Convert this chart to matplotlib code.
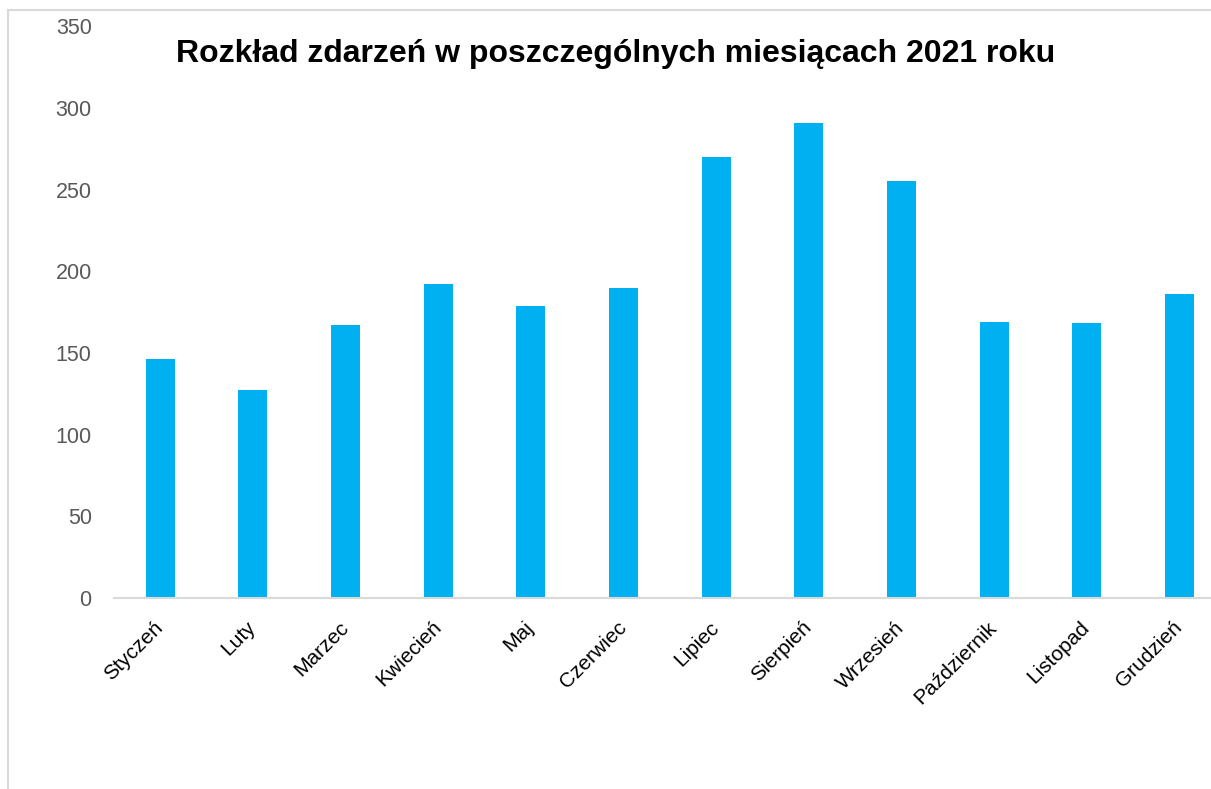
import matplotlib
matplotlib.use("Agg")
import matplotlib.pyplot as plt
import numpy as np
from matplotlib.patches import Rectangle

MIESIACE = ["Styczeń", "Luty", "Marzec", "Kwiecień", "Maj", "Czerwiec", "Lipiec",
            "Sierpień", "Wrzesień", "Październik", "Listopad", "Grudzień"]
ZDARZENIA = [146, 127, 167, 192, 179, 190, 270, 291, 255, 169, 168, 186]
Y_TICKS = [0, 50, 100, 150, 200, 250, 300, 350]
TYTUL = "Rozkład zdarzeń w poszczególnych miesiącach 2021 roku"

plt.rcParams["font.family"] = ["Liberation Sans", "DejaVu Sans"]

fig = plt.figure(figsize=(12.11, 7.89), dpi=100)
ax = fig.add_axes([0.0941, 0.2421, 0.918, 0.7248])

x = np.arange(len(MIESIACE))
ax.bar(x, ZDARZENIA, width=0.313, color="#00b0f0")
ax.set_xlim(-0.5, len(MIESIACE) - 0.5)
ax.set_ylim(0, 350)

ax.set_yticks(Y_TICKS)
ax.set_yticklabels([str(v) for v in Y_TICKS], color="#595959", fontsize=15.5)
ax.set_xticks(x)
ax.set_xticklabels(MIESIACE, rotation=45, ha="right", va="center",
                   rotation_mode="anchor", fontsize=15, color="black")
ax.tick_params(axis="y", length=0, pad=16)
ax.tick_params(axis="x", length=0, pad=19)

for s in ["top", "right", "left"]:
    ax.spines[s].set_visible(False)
ax.spines["bottom"].set_color("#d9d9d9")
ax.spines["bottom"].set_linewidth(1.5)

fig.text(0.5087, 0.932, TYTUL, ha="center", va="center", fontsize=23, fontweight="bold")

# obramowanie wykresu (przycięte z prawej i z dołu)
fig.patches.append(Rectangle((8 / 1211, -0.1), 1.2, 0.1 + 1 - 10 / 789,
                             transform=fig.transFigure, fill=False,
                             edgecolor="#d9d9d9", linewidth=1.5))

fig.savefig("out.png", dpi=100)
